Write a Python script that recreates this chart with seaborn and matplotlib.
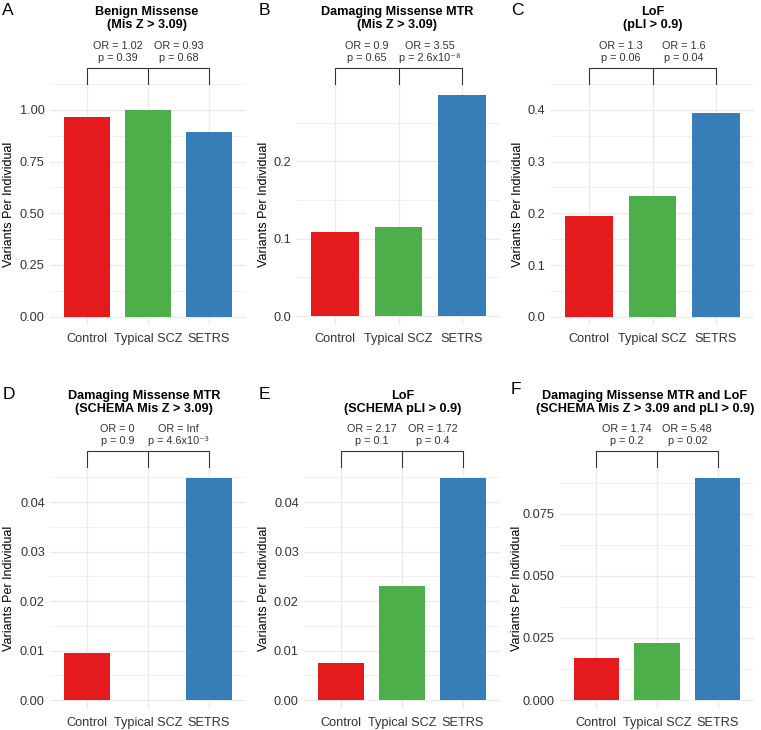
import numpy as np
import pandas as pd
import matplotlib
matplotlib.use('Agg')
import matplotlib.pyplot as plt
import matplotlib.transforms as mtransforms
import seaborn as sns

plt.rcParams['font.family'] = ['Liberation Sans', 'DejaVu Sans']

# data
categories = ['Control', 'Typical SCZ', 'SETRS']
benign = [0.964, 0.999, 0.893]
dmg_mtr = [0.108, 0.115, 0.286]
lof = [0.195, 0.234, 0.393]
schema_mtr = [0.0096, 0.0, 0.0448]
schema_lof = [0.0074, 0.023, 0.0448]
schema_both = [0.0168, 0.0229, 0.0892]

letters = ['A', 'B', 'C', 'D', 'E', 'F']
titles = [('Benign Missense', '(Mis Z > 3.09)'),
          ('Damaging Missense MTR', '(Mis Z > 3.09)'),
          ('LoF', '(pLI > 0.9)'),
          ('Damaging Missense MTR', '(SCHEMA Mis Z > 3.09)'),
          ('LoF', '(SCHEMA pLI > 0.9)'),
          ('Damaging Missense MTR and LoF', '(SCHEMA Mis Z > 3.09 and pLI > 0.9)')]
or_labels = [('OR = 1.02', 'OR = 0.93'), ('OR = 0.9', 'OR = 3.55'), ('OR = 1.3', 'OR = 1.6'),
             ('OR = 0', 'OR = Inf'), ('OR = 2.17', 'OR = 1.72'), ('OR = 1.74', 'OR = 5.48')]
p_labels = [('p = 0.39', 'p = 0.68'), ('p = 0.65', 'p = 2.6x10⁻⁸'), ('p = 0.06', 'p = 0.04'),
            ('p = 0.9', 'p = 4.6x10⁻³'), ('p = 0.1', 'p = 0.4'), ('p = 0.2', 'p = 0.02')]
yticks = [[0, 0.25, 0.5, 0.75, 1.0], [0, 0.1, 0.2], [0, 0.1, 0.2, 0.3, 0.4],
          [0, 0.01, 0.02, 0.03, 0.04], [0, 0.01, 0.02, 0.03, 0.04], [0, 0.025, 0.05, 0.075]]
ytick_fmt = ['{:.2f}', '{:.1f}', '{:.1f}', '{:.2f}', '{:.2f}', '{:.3f}']
values = [benign, dmg_mtr, lof, schema_mtr, schema_lof, schema_both]
colors = ['#E41A1C', '#4DAF4A', '#377EB8']

# layout in pixels
W, H = 761, 730
boxes = [(50.4, 245.6, 84, 325), (297, 500, 84, 325), (551, 754, 84, 325),
         (50.4, 245.6, 467, 709), (304.4, 499.6, 467, 709), (560, 754, 467, 709)]
ylims = [(-0.041, 1.05), (-0.0116, 0.300), (-0.016, 0.412),
         (-0.0018, 0.0471), (-0.0018, 0.0471), (-0.0036, 0.0938)]
ylab_x = [15, 270, 524, 15, 270, 523]
title_x = [147, 397, 653, 144, 403, 645]
letter_pos = [(2, 15), (259, 15), (511, 15), (3, 399), (259, 399), (511, 394)]

fig = plt.figure(figsize=(W / 100, H / 100), dpi=100)

for i in range(6):
    l, r, t, b = boxes[i]
    ax = fig.add_axes([l / W, 1 - b / H, (r - l) / W, (b - t) / H])
    df = pd.DataFrame({'group': categories, 'value': values[i]})
    sns.barplot(data=df, x='group', y='value', hue='group', palette=colors,
                saturation=1, width=0.75, legend=False, ax=ax)
    ax.set_xlim(-0.6, 2.6)
    ax.set_ylim(*ylims[i])
    ticks = yticks[i]
    ax.set_yticks(ticks)
    ax.set_yticklabels([ytick_fmt[i].format(v) for v in ticks])
    step = ticks[1] - ticks[0]
    ax.set_yticks([v + step / 2 for v in ticks[:-1]] + [ticks[-1] + step / 2], minor=True)
    ax.set_axisbelow(True)
    ax.grid(which='major', color='#EBEBEB', lw=1.0)
    ax.grid(which='minor', axis='y', color='#EBEBEB', lw=0.5)
    ax.tick_params(which='both', length=0, labelsize=9.2, labelcolor='#333333')
    ax.tick_params(axis='x', pad=5.5)
    ax.tick_params(axis='y', pad=4)
    for s in ax.spines.values():
        s.set_visible(False)
    ax.set_xlabel('')
    ax.set_ylabel('Variants Per Individual', fontsize=9, color='black')
    ax.yaxis.set_label_coords((ylab_x[i] - l) / (r - l), 0.5)

    # titles and panel letters
    top = 0 if i < 3 else 384
    fig.text(title_x[i] / W, 1 - (top + 15) / H, titles[i][0], ha='center', va='baseline',
             fontsize=9.1, fontweight='bold')
    fig.text(title_x[i] / W, 1 - (top + 28) / H, titles[i][1], ha='center', va='baseline',
             fontsize=9.1, fontweight='bold')
    lx, ly = letter_pos[i]
    fig.text(lx / W, 1 - ly / H, letters[i], ha='left', va='baseline', fontsize=12.5)

    # significance brackets
    trans = mtransforms.blended_transform_factory(ax.transData, fig.transFigure)
    tip = 1 - t / H
    br = 1 - (t - 16) / H
    ax.plot([0, 0, 2, 2], [tip, br, br, tip], transform=trans, clip_on=False,
            color='#333333', lw=0.8)
    ax.plot([1, 1], [br, tip], transform=trans, clip_on=False, color='#333333', lw=0.8)
    for j in range(2):
        ax.text(0.5 + j, 1 - (t - 35) / H, or_labels[i][j], transform=trans,
                ha='center', va='baseline', fontsize=7.8, color='#333333')
        ax.text(0.5 + j, 1 - (t - 23) / H, p_labels[i][j], transform=trans,
                ha='center', va='baseline', fontsize=7.8, color='#333333')

fig.savefig('out.png', dpi=100)
